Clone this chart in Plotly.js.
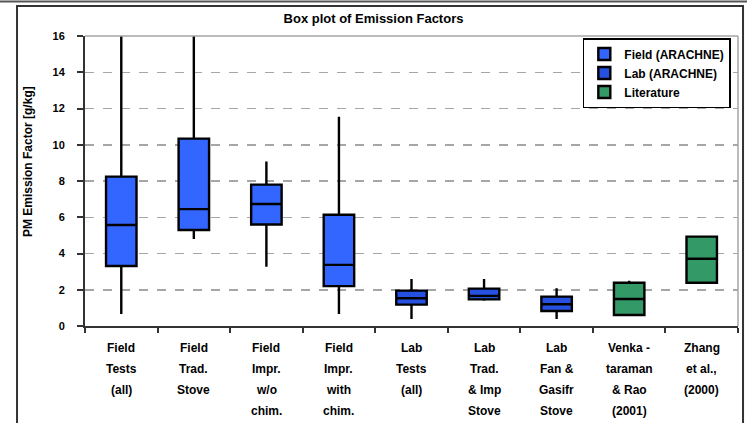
<!DOCTYPE html>
<html>
<head>
<meta charset="utf-8">
<script src="https://cdn.plot.ly/plotly-3.0.1.min.js"></script>
<style>html,body{margin:0;padding:0;background:#fff;}#chart{width:747px;height:423px;}</style>
</head>
<body>
<div id="chart"></div>
<script>
// Category labels (each line of the multi-line label)
const categoryLines = [
  ["Field", "Tests", "(all)"],
  ["Field", "Trad.", "Stove"],
  ["Field", "Impr.", "w/o", "chim."],
  ["Field", "Impr.", "with", "chim."],
  ["Lab", "Tests", "(all)"],
  ["Lab", "Trad.", "& Imp", "Stove"],
  ["Lab", "Fan &", "Gasifr", "Stove"],
  ["Venka -", "taraman", "& Rao", "(2001)"],
  ["Zhang", "et al.,", "(2000)"]
];
const categories = categoryLines.map(l => l.join(" "));

// Field (ARACHNE)
const fieldIdx    = [0, 1, 2, 3];
const fieldLow    = [0.66, 4.8, 3.27, 0.66];
const fieldQ1     = [3.31, 5.3, 5.6, 2.2];
const fieldMedian = [5.57, 6.45, 6.73, 3.37];
const fieldQ3     = [8.24, 10.34, 7.8, 6.14];
const fieldHigh   = [16, 16, 9.07, 11.55];

// Lab (ARACHNE)
const labIdx    = [4, 5, 6];
const labLow    = [0.39, 1.4, 0.39];
const labQ1     = [1.18, 1.47, 0.83];
const labMedian = [1.53, 1.66, 1.2];
const labQ3     = [1.95, 2.06, 1.62];
const labHigh   = [2.59, 2.59, 2.08];

// Literature
const litIdx    = [7, 8];
const litLow    = [0.6, 2.39];
const litQ1     = [0.61, 2.39];
const litMedian = [1.49, 3.71];
const litQ3     = [2.39, 4.93];
const litHigh   = [2.5, 4.93];

const yTicks = [0, 2, 4, 6, 8, 10, 12, 14, 16];

const FONT = "Liberation Sans, Arial, sans-serif";

function boxTrace(name, idx, low, q1, med, q3, high, fill) {
  return {
    type: "box",
    name: "<b>" + name + "</b>",
    x: idx.map(i => categories[i]),
    lowerfence: low, q1: q1, median: med, q3: q3, upperfence: high,
    fillcolor: fill,
    line: {color: "#000000", width: 2.4},
    whiskerwidth: 0,
    width: 0.42,
    boxpoints: false,
    hoverinfo: "skip"
  };
}

const data = [
  boxTrace("Field (ARACHNE)", fieldIdx, fieldLow, fieldQ1, fieldMedian, fieldQ3, fieldHigh, "#3366FF"),
  boxTrace("Lab (ARACHNE)", labIdx, labLow, labQ1, labMedian, labQ3, labHigh, "#2550E0"),
  boxTrace("Literature", litIdx, litLow, litQ1, litMedian, litQ3, litHigh, "#339966")
];

// x label annotations, one per line
const annotations = [];
categoryLines.forEach((lines, i) => {
  lines.forEach((t, j) => {
    annotations.push({
      x: categories[i], xref: "x", y: 0, yref: "paper",
      yanchor: "middle", xanchor: "center",
      yshift: -(22 + j * 21),
      text: "<b>" + t + "</b>", showarrow: false,
      font: {family: FONT, size: 12, color: "#000"}
    });
  });
});
annotations.push({
  x: -0.0873, xref: "paper", y: 0.569, yref: "paper",
  xanchor: "center", yanchor: "middle", textangle: -90,
  text: "<b>PM Emission Factor [g/kg]</b>", showarrow: false,
  font: {family: FONT, size: 12, color: "#000"}
});

const layout = {
  width: 747, height: 423,
  margin: {l: 85, r: 9, t: 36, b: 97},
  paper_bgcolor: "#ffffff", plot_bgcolor: "#ffffff",
  boxmode: "overlay",
  showlegend: true,
  title: {
    text: "<b>Box plot of Emission Factors</b>",
    x: 0.5, xref: "container", xanchor: "center",
    y: 1 - 18 / 423, yref: "container", yanchor: "middle",
    font: {family: FONT, size: 13, color: "#000"}
  },
  legend: {
    x: 0.989, xanchor: "right", y: 0.993, yanchor: "top",
    bgcolor: "#ffffff", bordercolor: "#000000", borderwidth: 1.5,
    font: {family: FONT, size: 12, color: "#000"},
    tracegroupgap: 0
  },
  xaxis: {
    type: "category",
    categoryorder: "array", categoryarray: categories,
    range: [-0.5, 8.5],
    showticklabels: false,
    ticks: "outside", tickson: "boundaries", ticklen: 5, tickwidth: 2, tickcolor: "#333",
    showgrid: false, zeroline: false,
    showline: true, linecolor: "#333", linewidth: 2
  },
  yaxis: {
    range: [0, 16],
    tickvals: yTicks, ticktext: yTicks.map(v => "<b>" + v + "</b>"),
    ticks: "outside", ticklen: 6, tickwidth: 2, tickcolor: "#333",
    ticklabelstandoff: 10,
    tickfont: {family: FONT, size: 11, color: "#000"},
    showgrid: true, gridcolor: "#a6a6a6", gridwidth: 1.5, griddash: "dash",
    zeroline: false,
    showline: true, linecolor: "#333", linewidth: 2
  },
  annotations: annotations,
  shapes: [
    {type: "line", xref: "paper", yref: "paper", x0: 0, x1: 1, y0: 1, y1: 1, line: {color: "#a6a6a6", width: 1.5}},
    {type: "line", xref: "paper", yref: "paper", x0: 1, x1: 1, y0: 0, y1: 1, line: {color: "#a6a6a6", width: 1.5}},
    {type: "rect", xref: "paper", yref: "paper", x0: -0.1041, x1: 1.0077, y0: -0.5, y1: 1.1034, line: {color: "#333", width: 2}, layer: "below"},
    {type: "line", xref: "paper", yref: "paper", x0: -0.2, x1: 1.2, y0: 1.119, y1: 1.119, line: {color: "#555", width: 2}}
  ]
};

Plotly.newPlot("chart", data, layout, {staticPlot: true, displayModeBar: false});
</script>
</body>
</html>
